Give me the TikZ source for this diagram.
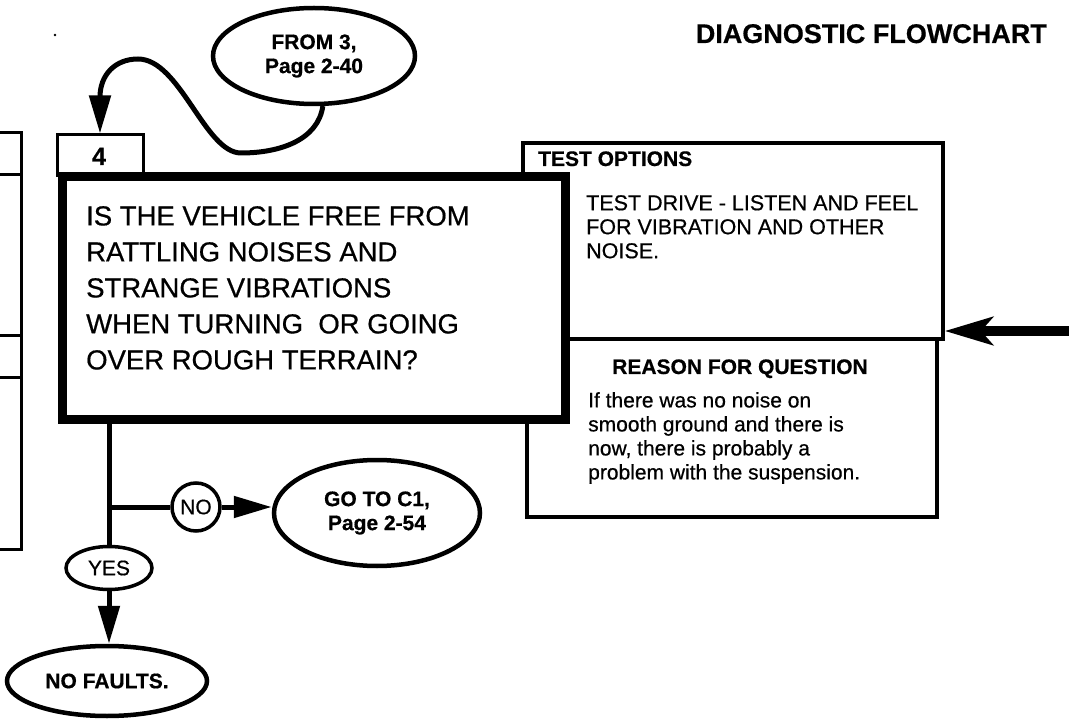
\documentclass[tikz,border=0pt]{standalone}
\usepackage{fontspec}
\setmainfont{Liberation Sans}[FakeBold=0.6]
\usetikzlibrary{shapes.geometric,arrows.meta}
\begin{document}
\begin{tikzpicture}[x=1pt,y=-1pt,
  bubble/.style={draw,ellipse,line width=4.5pt,inner sep=0pt,align=center,fill=white,
    font=\fontsize{21}{24}\selectfont\bfseries},
  thinbox/.style={draw,line width=3.5pt,inner sep=0pt},
  conn/.style={line width=5pt},
  tipA/.style={-{Triangle[length=38pt,width=21pt]}},
  small/.style={inner sep=0pt,font=\fontsize{21.5}{24}\selectfont,align=left},
  smallbold/.style={inner sep=0pt,font=\fontsize{21}{24}\selectfont\bfseries},
]
\useasboundingbox (0,0) rectangle (1069,719);

% speck
\fill (55,35) circle (1.3);

% left partial boxes (cut off)
\draw[line width=3pt] (-5,133) -| (21,549) -- (-5,549);
\draw[line width=3pt] (-5,175) -- (21,175);
\draw[line width=3pt] (-5,336) -- (21,336);
\draw[line width=3pt] (-5,378) -- (21,378);

% title
\node[anchor=base east,inner sep=0pt,font=\fontsize{27}{33}\selectfont\bfseries] (title) at (1047,43) {DIAGNOSTIC FLOWCHART};

% right side boxes
\node[thinbox,minimum width=410pt,minimum height=178pt] (reason) at (732,428) {};
\node[thinbox,minimum width=420pt,minimum height=196pt] (topts) at (733,241) {};
\node[smallbold,anchor=base west] (tolabel) at (538,166) {TEST OPTIONS};
\node[small,anchor=north west] (totext) at (586,195) {TEST DRIVE - LISTEN AND FEEL\\FOR VIBRATION AND OTHER\\NOISE.};
\node[smallbold,anchor=base] (rlabel) at (740,374) {REASON FOR QUESTION};
\node[small,font=\fontsize{21}{24}\selectfont,anchor=north west] (rtext) at (588,392) {If there was no noise on\\smooth ground and there is\\now, there is probably a\\problem with the suspension.};

% step 4
\node[draw,line width=3pt,fill=white,minimum width=86pt,minimum height=41pt,inner sep=0pt] (tab4) at (100,155.5) {};
\node[draw,line width=9pt,fill=white,minimum width=503pt,minimum height=243pt,inner sep=0pt] (q4) at (314,298) {};
\node[anchor=base,inner sep=0pt,font=\fontsize{25}{28}\selectfont\bfseries] (four) at (99,165) {4};
\node[anchor=north west,inner sep=0pt,align=left,font=\fontsize{27.5}{36}\selectfont] (qtext) at (86,206)
  {IS THE VEHICLE FREE FROM\\RATTLING NOISES AND\\STRANGE VIBRATIONS\\WHEN TURNING~ OR GOING\\OVER ROUGH TERRAIN?};

% bubbles
\node[bubble,minimum width=202pt,minimum height=96pt] (from3) at (314,56) {FROM 3,\\Page 2-40};
\node[bubble,minimum width=206pt,minimum height=106pt] (goto) at (377,513) {GO TO C1,\\Page 2-54};
\node[bubble,line width=3.5pt,minimum width=86pt,minimum height=43pt,font=\fontsize{21}{24}\selectfont] (yes) at (109,568) {YES};
\node[draw,circle,line width=3.5pt,minimum size=48pt,inner sep=0pt,fill=white,font=\fontsize{21}{24}\selectfont] (no) at (196,507) {NO};
\node[bubble,minimum width=200pt,minimum height=70pt] (nof) at (107,681) {NO FAULTS.};

% connectors
\draw[conn,tipA] (from3.-80) .. controls (318,140) and (280,153) .. (241,153)
  .. controls (205,153) and (180,59) .. (138,59)
  .. controls (115,59) and (100,75) .. (100,97) -- (tab4.north);
\coordinate (j) at (yes.north |- no.west);
\draw[conn] (q4.south -| yes.north) -- (yes.north);
\draw[conn] (j) -- (no.west);
\draw[conn,tipA] (no.east) -- (goto.west |- no.east);
\draw[conn,tipA] (yes.south) -- (yes.south |- nof.north);
\coordinate (rstart) at (1069,331);
\draw[line width=10pt,-{Stealth[length=48pt,width=28pt,inset=12pt]}] (rstart) -- (topts.east |- rstart);
\end{tikzpicture}
\end{document}
